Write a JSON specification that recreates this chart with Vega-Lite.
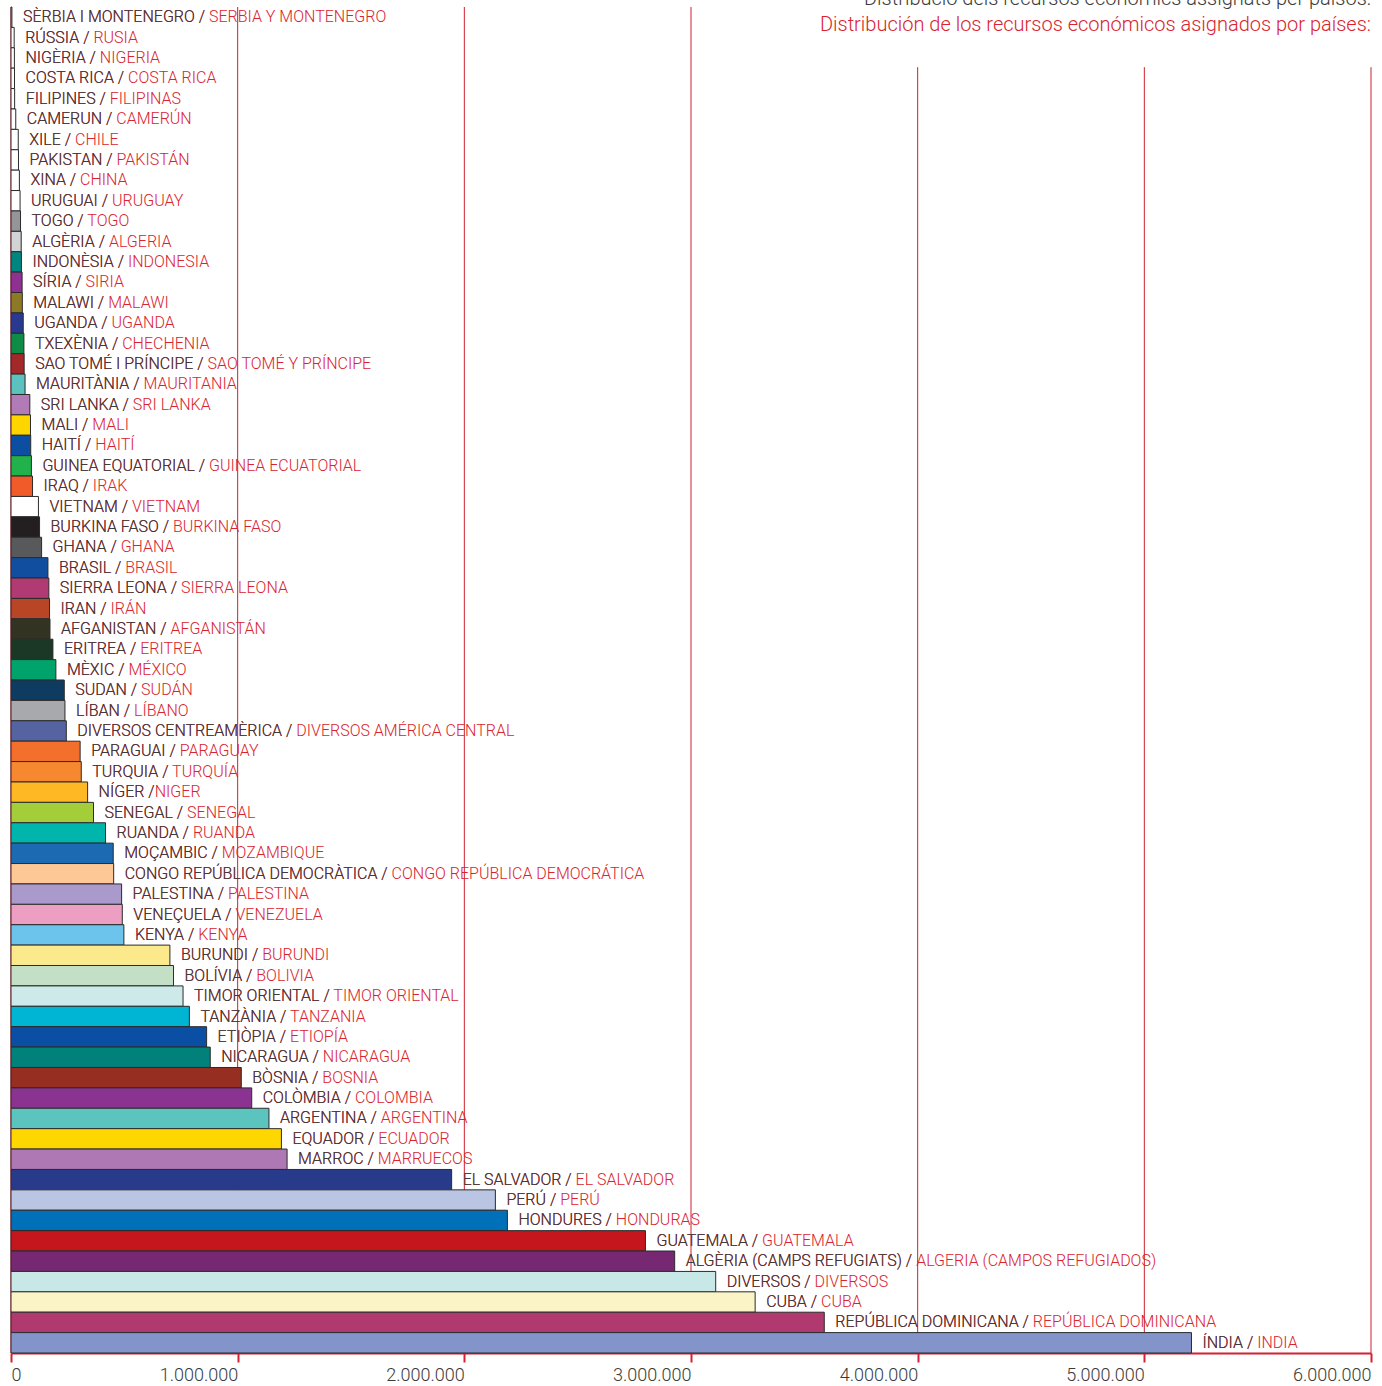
{
  "$schema": "https://vega.github.io/schema/vega-lite/v6.json",
  "autosize": {"type": "none"},
  "width": 1360,
  "height": 1346,
  "padding": {"left": 11, "top": 7, "right": 11, "bottom": 33},
  "background": "#ffffff",
  "title": {
    "text": "Distribució dels recursos econòmics assignats per països:",
    "subtitle": "Distribución de los recursos económicos asignados por países:",
    "anchor": "end",
    "frame": "group",
    "orient": "top",
    "offset": -28,
    "font": "Roboto",
    "fontSize": 20,
    "fontWeight": 300,
    "color": "#3c3c3c",
    "subtitleFont": "Roboto",
    "subtitleFontSize": 20,
    "subtitleFontWeight": 300,
    "subtitleColor": "#d9232e",
    "subtitlePadding": 6
  },
  "config": {
    "view": {"stroke": null},
    "locale": {"number": {"decimal": ",", "thousands": ".", "grouping": [3], "currency": ["", " €"]}},
    "scale": {"bandPaddingInner": 0, "bandPaddingOuter": 0}
  },
  "datasets": {
    "rows": [
      {"ca": "SÈRBIA I MONTENEGRO / ", "lbl": "SÈRBIA I MONTENEGRO / SERBIA Y MONTENEGRO", "v": 4000, "c": "#ffffff"},
      {"ca": "RÚSSIA / ", "lbl": "RÚSSIA / RUSIA", "v": 14000, "c": "#ffffff"},
      {"ca": "NIGÈRIA / ", "lbl": "NIGÈRIA / NIGERIA", "v": 15000, "c": "#ffffff"},
      {"ca": "COSTA RICA / ", "lbl": "COSTA RICA / COSTA RICA", "v": 15500, "c": "#ffffff"},
      {"ca": "FILIPINES / ", "lbl": "FILIPINES / FILIPINAS", "v": 16000, "c": "#ffffff"},
      {"ca": "CAMERUN / ", "lbl": "CAMERUN / CAMERÚN", "v": 21000, "c": "#ffffff"},
      {"ca": "XILE / ", "lbl": "XILE / CHILE", "v": 32000, "c": "#ffffff"},
      {"ca": "PAKISTAN / ", "lbl": "PAKISTAN / PAKISTÁN", "v": 33000, "c": "#ffffff"},
      {"ca": "XINA / ", "lbl": "XINA / CHINA", "v": 37000, "c": "#ffffff"},
      {"ca": "URUGUAI / ", "lbl": "URUGUAI / URUGUAY", "v": 40000, "c": "#ffffff"},
      {"ca": "TOGO / ", "lbl": "TOGO / TOGO", "v": 42000, "c": "#939598"},
      {"ca": "ALGÈRIA / ", "lbl": "ALGÈRIA / ALGERIA", "v": 45000, "c": "#d1d3d4"},
      {"ca": "INDONÈSIA / ", "lbl": "INDONÈSIA / INDONESIA", "v": 46000, "c": "#00857f"},
      {"ca": "SÍRIA / ", "lbl": "SÍRIA / SIRIA", "v": 49000, "c": "#8e3193"},
      {"ca": "MALAWI / ", "lbl": "MALAWI / MALAWI", "v": 50000, "c": "#8c7a26"},
      {"ca": "UGANDA / ", "lbl": "UGANDA / UGANDA", "v": 54000, "c": "#2a3990"},
      {"ca": "TXEXÈNIA / ", "lbl": "TXEXÈNIA / CHECHENIA", "v": 57000, "c": "#0e8c45"},
      {"ca": "SAO TOMÉ I PRÍNCIPE / ", "lbl": "SAO TOMÉ I PRÍNCIPE / SAO TOMÉ Y PRÍNCIPE", "v": 58000, "c": "#a3282a"},
      {"ca": "MAURITÀNIA /  ", "lbl": "MAURITÀNIA /  MAURITANIA", "v": 62000, "c": "#5bc2c0"},
      {"ca": "SRI LANKA / ", "lbl": "SRI LANKA / SRI LANKA", "v": 83000, "c": "#b07bb6"},
      {"ca": "MALI / ", "lbl": "MALI / MALI", "v": 86000, "c": "#ffd500"},
      {"ca": "HAITÍ / ", "lbl": "HAITÍ / HAITÍ", "v": 87000, "c": "#0b4ea2"},
      {"ca": "GUINEA EQUATORIAL / ", "lbl": "GUINEA EQUATORIAL / GUINEA ECUATORIAL", "v": 90000, "c": "#21b24b"},
      {"ca": "IRAQ / ", "lbl": "IRAQ / IRAK", "v": 95000, "c": "#f15a29"},
      {"ca": "VIETNAM / ", "lbl": "VIETNAM / VIETNAM", "v": 121000, "c": "#ffffff"},
      {"ca": "BURKINA FASO / ", "lbl": "BURKINA FASO / BURKINA FASO", "v": 126000, "c": "#231f20"},
      {"ca": "GHANA / ", "lbl": "GHANA / GHANA", "v": 135000, "c": "#58595b"},
      {"ca": "BRASIL / ", "lbl": "BRASIL / BRASIL", "v": 163000, "c": "#124ea0"},
      {"ca": "SIERRA LEONA / ", "lbl": "SIERRA LEONA / SIERRA LEONA", "v": 167000, "c": "#b03a72"},
      {"ca": "IRAN / ", "lbl": "IRAN / IRÁN", "v": 170000, "c": "#b84526"},
      {"ca": "AFGANISTAN / ", "lbl": "AFGANISTAN / AFGANISTÁN", "v": 172000, "c": "#333322"},
      {"ca": "ERITREA / ", "lbl": "ERITREA / ERITREA", "v": 185000, "c": "#1b3726"},
      {"ca": "MÈXIC / ", "lbl": "MÈXIC / MÉXICO", "v": 198000, "c": "#00a36c"},
      {"ca": "SUDAN / ", "lbl": "SUDAN / SUDÁN", "v": 235000, "c": "#0e3b60"},
      {"ca": "LÍBAN / ", "lbl": "LÍBAN / LÍBANO", "v": 238000, "c": "#a7a9ac"},
      {"ca": "DIVERSOS CENTREAMÈRICA / ", "lbl": "DIVERSOS CENTREAMÈRICA / DIVERSOS AMÉRICA CENTRAL", "v": 244000, "c": "#5564a0"},
      {"ca": "PARAGUAI / ", "lbl": "PARAGUAI / PARAGUAY", "v": 305000, "c": "#f26f2c"},
      {"ca": "TURQUIA / ", "lbl": "TURQUIA / TURQUÍA", "v": 310000, "c": "#f6892f"},
      {"ca": "NÍGER /", "lbl": "NÍGER /NIGER", "v": 338000, "c": "#fdb824"},
      {"ca": "SENEGAL / ", "lbl": "SENEGAL / SENEGAL", "v": 364000, "c": "#a4cd3a"},
      {"ca": "RUANDA / ", "lbl": "RUANDA / RUANDA", "v": 417000, "c": "#00b5ac"},
      {"ca": "MOÇAMBIC / ", "lbl": "MOÇAMBIC / MOZAMBIQUE", "v": 451000, "c": "#1c6ab1"},
      {"ca": "CONGO REPÚBLICA DEMOCRÀTICA / ", "lbl": "CONGO REPÚBLICA DEMOCRÀTICA / CONGO REPÚBLICA DEMOCRÁTICA", "v": 453000, "c": "#fdc896"},
      {"ca": "PALESTINA / ", "lbl": "PALESTINA / PALESTINA", "v": 488000, "c": "#a99acb"},
      {"ca": "VENEÇUELA / ", "lbl": "VENEÇUELA / VENEZUELA", "v": 491000, "c": "#ec9fc3"},
      {"ca": "KENYA / ", "lbl": "KENYA / KENYA", "v": 498000, "c": "#6cc3ec"},
      {"ca": "BURUNDI / ", "lbl": "BURUNDI / BURUNDI", "v": 701000, "c": "#fbe98c"},
      {"ca": "BOLÍVIA / ", "lbl": "BOLÍVIA / BOLIVIA", "v": 717000, "c": "#c3e0c6"},
      {"ca": "TIMOR ORIENTAL / ", "lbl": "TIMOR ORIENTAL / TIMOR ORIENTAL", "v": 759000, "c": "#cde9ea"},
      {"ca": "TANZÀNIA / ", "lbl": "TANZÀNIA / TANZANIA", "v": 787000, "c": "#00b5d3"},
      {"ca": "ETIÒPIA / ", "lbl": "ETIÒPIA / ETIOPÍA", "v": 863000, "c": "#0a4fa3"},
      {"ca": "NICARAGUA / ", "lbl": "NICARAGUA / NICARAGUA", "v": 879000, "c": "#00817a"},
      {"ca": "BÒSNIA / ", "lbl": "BÒSNIA / BOSNIA", "v": 1016000, "c": "#962e21"},
      {"ca": "COLÒMBIA / ", "lbl": "COLÒMBIA / COLOMBIA", "v": 1062000, "c": "#8b3390"},
      {"ca": "ARGENTINA / ", "lbl": "ARGENTINA / ARGENTINA", "v": 1138000, "c": "#5cc4bf"},
      {"ca": "EQUADOR / ", "lbl": "EQUADOR / ECUADOR", "v": 1193000, "c": "#ffd700"},
      {"ca": "MARROC / ", "lbl": "MARROC / MARRUECOS", "v": 1218000, "c": "#ad78b3"},
      {"ca": "EL SALVADOR / ", "lbl": "EL SALVADOR / EL SALVADOR", "v": 1944000, "c": "#283a8a"},
      {"ca": "PERÚ / ", "lbl": "PERÚ / PERÚ", "v": 2137000, "c": "#bac5e3"},
      {"ca": "HONDURES / ", "lbl": "HONDURES / HONDURAS", "v": 2190000, "c": "#0071b8"},
      {"ca": "GUATEMALA / ", "lbl": "GUATEMALA / GUATEMALA", "v": 2799000, "c": "#c4161c"},
      {"ca": "ALGÈRIA (CAMPS REFUGIATS) / ", "lbl": "ALGÈRIA (CAMPS REFUGIATS) / ALGERIA (CAMPOS REFUGIADOS)", "v": 2928000, "c": "#772872"},
      {"ca": "DIVERSOS / ", "lbl": "DIVERSOS / DIVERSOS", "v": 3109000, "c": "#c8e8e8"},
      {"ca": "CUBA / ", "lbl": "CUBA / CUBA", "v": 3283000, "c": "#fbf4c6"},
      {"ca": "REPÚBLICA DOMINICANA / ", "lbl": "REPÚBLICA DOMINICANA / REPÚBLICA DOMINICANA", "v": 3588000, "c": "#b03a6f"},
      {"ca": "ÍNDIA / ", "lbl": "ÍNDIA / INDIA", "v": 5208000, "c": "#8394ca"}
    ],
    "grid": [
      {"g": 0, "top": 0},
      {"g": 1000000, "top": 0},
      {"g": 2000000, "top": 0},
      {"g": 3000000, "top": 0},
      {"g": 4000000, "top": 2.95},
      {"g": 5000000, "top": 2.95},
      {"g": 6000000, "top": 2.95}
    ]
  },
  "resolve": {"scale": {"y": "independent"}},
  "layer": [
    {
      "data": {"name": "grid"},
      "mark": {"type": "rule", "color": "#cf2030", "strokeWidth": 1},
      "encoding": {
        "x": {"field": "g", "type": "quantitative", "scale": {"domain": [0, 6000000], "nice": false, "zero": true}},
        "y": {"field": "top", "type": "quantitative", "scale": {"domain": [0, 66], "reverse": true, "nice": false, "zero": false}, "axis": null},
        "y2": {"datum": 66}
      }
    },
    {
      "data": {"name": "rows"},
      "mark": {"type": "bar", "stroke": "#2b2b2b", "strokeWidth": 1},
      "encoding": {
        "x": {
          "field": "v", "type": "quantitative",
          "scale": {"domain": [0, 6000000], "nice": false, "zero": true},
          "axis": {
            "title": null,
            "grid": false,
            "values": [0, 1000000, 2000000, 3000000, 4000000, 5000000, 6000000],
            "format": ",d",
            "domainColor": "#d42030",
            "domainWidth": 2,
            "tickColor": "#d42030",
            "tickWidth": 2,
            "tickSize": 9,
            "labelFont": "Roboto",
            "labelFontWeight": 300,
            "labelFontSize": 18,
            "labelColor": "#3a3a3a",
            "labelPadding": 4,
            "labelAlign": {"condition": {"test": "datum.value === 0", "value": "left"}, "value": "right"}
          }
        },
        "y": {"field": "ca", "type": "nominal", "sort": null, "axis": null},
        "fill": {"field": "c", "type": "nominal", "scale": null}
      }
    },
    {
      "data": {"name": "rows"},
      "mark": {"type": "text", "align": "left", "baseline": "middle", "dx": 11, "font": "Roboto", "fontWeight": 300, "fontSize": 16, "color": "#d9232e"},
      "encoding": {
        "x": {"field": "v", "type": "quantitative", "scale": {"domain": [0, 6000000], "nice": false, "zero": true}},
        "y": {"field": "ca", "type": "nominal", "sort": null, "axis": null},
        "text": {"field": "lbl"}
      }
    },
    {
      "data": {"name": "rows"},
      "mark": {"type": "text", "align": "left", "baseline": "middle", "dx": 11, "font": "Roboto", "fontWeight": 300, "fontSize": 16, "color": "#3c3c3c"},
      "encoding": {
        "x": {"field": "v", "type": "quantitative", "scale": {"domain": [0, 6000000], "nice": false, "zero": true}},
        "y": {"field": "ca", "type": "nominal", "sort": null, "axis": null},
        "text": {"field": "ca"}
      }
    }
  ]
}
